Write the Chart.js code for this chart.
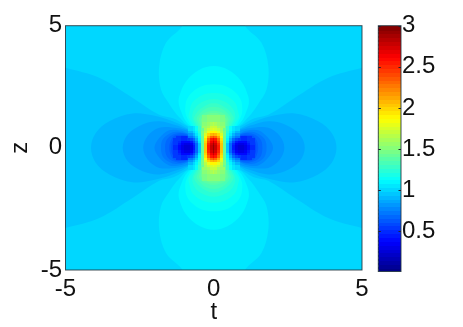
<!DOCTYPE html>
<html><head><meta charset="utf-8">
<style>html,body{margin:0;padding:0;background:#fff;overflow:hidden}
#wrap{position:relative;width:463px;height:327px}
canvas{position:absolute;top:0}</style>
<script src="https://cdn.jsdelivr.net/npm/chart.js@4"></script>
</head><body><div id="wrap">
<div style="position:absolute;left:0;top:0;width:463px;height:327px"><canvas id="main"></canvas></div>
<div style="position:absolute;left:340px;top:0;width:123px;height:327px"><canvas id="bar"></canvas></div>
</div>
<script>
const tTicks = [-5, 0, 5];
const zTicks = [-5, 0, 5];
const barTicks = [0.5, 1, 1.5, 2, 2.5, 3];
const tAxisTitle = "t";
const zAxisTitle = "z";
const colorMin = 0.01;
const colorMax = 3;
const levels = 64;
// one quadrant (t>=0, z>=0); the reference is symmetric in t and z
const tNodes = [0,.1,.2,.3,.4,.5,.6,.7,.8,.9,1,1.1,1.2,1.3,1.4,1.6,1.8,2,2.25,2.5,2.75,3,3.25,3.5,3.75,4,4.25,4.5,4.75,5];
const zNodes = [0,.1,.2,.3,.4,.5,.6,.7,.8,.9,1,1.2,1.4,1.6,1.8,2,2.25,2.5,2.75,3,3.25,3.5,3.75,4,4.25,4.5,4.75,5];
const quadrantValues = [
[2.92,2.78,2.58,2.08,1.43,.96,.65,.42,.29,.23,.25,.30,.40,.50,.58,.69,.77,.825,.855,.873,.883,.895,.91,.922,.932,.945,.95,.955,.96,.963],
[2.91,2.77,2.56,2.06,1.43,.97,.67,.44,.31,.25,.26,.31,.41,.51,.585,.69,.77,.825,.855,.873,.884,.896,.91,.922,.932,.945,.95,.955,.96,.963],
[2.88,2.74,2.50,2.03,1.43,.99,.71,.50,.37,.31,.31,.35,.44,.53,.60,.70,.775,.827,.856,.874,.885,.897,.911,.923,.933,.945,.95,.955,.96,.963],
[2.79,2.67,2.43,2.00,1.44,1.04,.78,.59,.47,.41,.39,.42,.49,.56,.62,.71,.78,.83,.858,.876,.887,.899,.912,.924,.934,.945,.95,.955,.96,.963],
[2.66,2.55,2.32,1.95,1.44,1.10,.87,.70,.59,.53,.50,.50,.54,.59,.64,.73,.79,.835,.862,.879,.89,.902,.914,.925,.935,.945,.95,.955,.96,.963],
[2.40,2.33,2.14,1.86,1.45,1.16,.96,.82,.72,.66,.62,.60,.61,.64,.67,.75,.805,.842,.867,.882,.893,.905,.917,.927,.936,.945,.95,.955,.96,.963],
[2.13,2.10,1.98,1.77,1.46,1.22,1.04,.92,.835,.775,.735,.71,.70,.705,.72,.77,.815,.848,.872,.887,.899,.91,.92,.93,.938,.945,.95,.955,.96,.963],
[1.92,1.90,1.83,1.68,1.46,1.27,1.12,1.0,.92,.865,.825,.80,.785,.775,.775,.79,.82,.85,.875,.89,.90,.912,.922,.932,.94,.946,.951,.956,.96,.964],
[1.80,1.78,1.72,1.60,1.44,1.30,1.17,1.08,1.0,.95,.90,.865,.845,.83,.825,.83,.84,.855,.88,.895,.905,.915,.924,.934,.941,.947,.952,.957,.961,.964],
[1.72,1.70,1.64,1.56,1.44,1.33,1.23,1.15,1.08,1.03,.97,.927,.898,.879,.866,.86,.862,.87,.882,.895,.906,.917,.926,.934,.941,.947,.952,.957,.961,.964],
[1.66,1.64,1.59,1.53,1.43,1.33,1.26,1.19,1.13,1.08,1.02,.98,.947,.924,.908,.891,.886,.888,.896,.905,.914,.922,.93,.937,.944,.949,.954,.958,.962,.965],
[1.55,1.54,1.52,1.47,1.42,1.365,1.31,1.26,1.21,1.14,1.087,1.048,1.016,.99,.97,.943,.929,.922,.921,.924,.928,.934,.939,.944,.949,.953,.957,.961,.964,.967],
[1.43,1.425,1.41,1.385,1.35,1.31,1.275,1.235,1.195,1.16,1.116,1.082,1.055,1.031,1.012,.982,.963,.951,.944,.942,.943,.945,.948,.951,.955,.958,.961,.964,.967,.969],
[1.35,1.345,1.335,1.315,1.29,1.26,1.235,1.20,1.17,1.145,1.124,1.10,1.076,1.056,1.038,1.009,.989,.975,.964,.959,.956,.956,.957,.959,.961,.963,.965,.967,.969,.971],
[1.282,1.28,1.272,1.26,1.245,1.227,1.208,1.187,1.168,1.145,1.123,1.104,1.085,1.068,1.052,1.026,1.007,.992,.98,.972,.968,.966,.965,.965,.966,.967,.969,.971,.972,.974],
[1.227,1.225,1.22,1.215,1.205,1.192,1.179,1.164,1.148,1.133,1.116,1.102,1.087,1.073,1.06,1.038,1.02,1.006,.993,.984,.978,.974,.973,.972,.972,.972,.973,.974,.975,.976],
[1.18,1.178,1.175,1.171,1.165,1.157,1.148,1.138,1.128,1.117,1.106,1.095,1.084,1.074,1.064,1.046,1.03,1.017,1.005,.995,.988,.984,.981,.979,.978,.978,.978,.978,.979,.979],
[1.145,1.144,1.142,1.14,1.137,1.13,1.125,1.118,1.11,1.103,1.095,1.086,1.078,1.071,1.063,1.048,1.036,1.024,1.013,1.004,.997,.992,.988,.985,.984,.983,.982,.982,.982,.982],
[1.12,1.119,1.118,1.117,1.115,1.109,1.106,1.10,1.096,1.088,1.084,1.078,1.072,1.066,1.06,1.049,1.038,1.028,1.018,1.01,1.003,.998,.994,.991,.989,.987,.986,.985,.985,.985],
[1.101,1.10,1.099,1.098,1.097,1.094,1.09,1.087,1.083,1.079,1.075,1.07,1.066,1.061,1.057,1.047,1.039,1.031,1.022,1.014,1.008,1.003,.998,.995,.993,.991,.99,.989,.988,.988],
[1.086,1.086,1.085,1.084,1.083,1.081,1.079,1.076,1.073,1.07,1.067,1.063,1.06,1.056,1.052,1.045,1.038,1.031,1.024,1.017,1.011,1.006,1.002,.999,.996,.994,.993,.992,.991,.99],
[1.074,1.074,1.073,1.073,1.072,1.07,1.069,1.067,1.064,1.062,1.06,1.057,1.054,1.051,1.048,1.043,1.037,1.031,1.024,1.019,1.013,1.009,1.005,1.002,.999,.997,.996,.994,.993,.992],
[1.065,1.065,1.064,1.064,1.063,1.062,1.06,1.059,1.057,1.055,1.053,1.051,1.049,1.047,1.044,1.04,1.035,1.03,1.025,1.02,1.015,1.011,1.007,1.004,1.002,1.0,.998,.996,.995,.994],
[1.057,1.057,1.056,1.056,1.055,1.054,1.053,1.052,1.051,1.05,1.048,1.046,1.045,1.043,1.041,1.037,1.033,1.029,1.024,1.02,1.016,1.012,1.009,1.006,1.004,1.001,1.0,.998,.997,.996],
[1.05,1.05,1.05,1.05,1.049,1.048,1.047,1.046,1.046,1.045,1.043,1.042,1.04,1.039,1.038,1.035,1.031,1.028,1.024,1.02,1.016,1.013,1.01,1.007,1.005,1.003,1.001,1.0,.999,.998],
[1.046,1.046,1.046,1.046,1.045,1.045,1.044,1.043,1.042,1.041,1.04,1.038,1.037,1.036,1.035,1.032,1.029,1.027,1.023,1.02,1.017,1.014,1.011,1.008,1.006,1.004,1.003,1.001,1.0,.999],
[1.045,1.045,1.045,1.044,1.044,1.043,1.043,1.042,1.041,1.04,1.038,1.036,1.034,1.033,1.032,1.03,1.027,1.025,1.022,1.019,1.017,1.014,1.011,1.009,1.007,1.005,1.004,1.002,1.001,1.0],
[1.044,1.044,1.044,1.043,1.043,1.042,1.042,1.041,1.04,1.039,1.038,1.036,1.034,1.032,1.03,1.028,1.026,1.024,1.021,1.019,1.016,1.014,1.012,1.01,1.008,1.006,1.005,1.003,1.002,1.001]
];

// Contour lines, in (t, z), one quarter each.
// The value beside each name is a value inside that filled band.
const baseBand = 1.01;
const lowBandA = 0.97;
const lowContourA = [[.49,0],[.56,.4],[.65,.6],[.8,.8],[1.05,1],[1.35,1.2],[1.84,1.35],[2.74,2.05],[3.86,2.87],[5,3.28],[6,3.6],[7,0]];
const lowBandB = 0.92;
const lowContourB = [[.5,0],[.55,.3],[.68,.6],[.91,.8],[1.2,1],[1.95,1.3],[2.74,1.41],[3.52,1.09],[3.98,.61],[4.14,0]];
const lowBandC = 0.875;
const lowContourC = [[.5,0],[.58,.4],[.72,.6],[.8,.7],[1,.8],[1.2,.9],[1.84,1.09],[2.4,.96],[2.9,.55],[3.07,0]];
const lowBandD = 0.83;
const lowContourD = [[.5,0],[.6,.3],[.8,.6],[.9,.7],[1.2,.8],[1.84,.82],[2.23,.48],[2.38,0]];
const lowBandE = 0.78;
const lowContourE = [[.5,0],[.65,.3],[.71,.5],[.9,.6],[1.08,.7],[1.5,.72],[1.84,.4],[2,0]];
const lowBandF = 0.734;
const lowContourF = [[.5,0],[.65,.25],[.75,.48],[.95,.6],[1.27,.66],[1.5,.58],[1.72,.35],[1.78,0]];
const lowBandG = 0.687;
const lowContourG = [[.55,0],[.7,.3],[.85,.5],[1,.59],[1.2,.6],[1.45,.5],[1.6,.3],[1.64,0]];
const lowBandH = 0.64;
const lowContourH = [[.6,0],[.72,.25],[.9,.5],[1.1,.54],[1.33,.5],[1.45,.3],[1.5,0]];
const lowBandI = 0.593;
const lowContourI = [[.65,0],[.75,.2],[.95,.45],[1.1,.49],[1.25,.43],[1.4,.25],[1.43,0]];
const highBandA = 1.06;
const highContourA = [[.5,.2],[.6,.6],[.75,.8],[.97,1],[1.12,1.2],[1.27,1.4],[1.5,1.8],[1.78,2.39],[1.84,3.35],[1.61,4.3],[1.1,4.92],[.8,5.5],[0,6]];
const highBandB = 1.11;
const highContourB = [[.5,.3],[.57,.6],[.7,.8],[.88,1],[1,1.2],[1.08,1.43],[1.18,1.8],[1.16,2.12],[.93,2.73],[.48,3.2],[0,3.35]];
const highBandC = 1.155;
const highContourC = [[.5,.4],[.6,.6],[.8,1],[.95,1.4],[.95,1.8],[.9,2],[.75,2.25],[.45,2.5],[0,2.6]];
const highBandD = 1.2;
const highContourD = [[.5,.4],[.55,.5],[.72,1],[.85,1.25],[.82,1.5],[.75,1.8],[.6,2],[.3,2.2],[0,2.25]];
const highBandE = 1.25;
const highContourE = [[.45,.3],[.5,.6],[.56,.8],[.65,1],[.72,1.2],[.72,1.4],[.65,1.6],[.5,1.8],[.25,1.95],[0,2]];
const highBandF = 1.295;
const highContourF = [[.43,.3],[.47,.6],[.52,.8],[.59,1],[.67,1.2],[.6,1.4],[.45,1.6],[.17,1.8],[0,1.83]];
const highBandG = 1.34;
const highContourG = [[.41,.3],[.44,.6],[.5,.8],[.52,1],[.58,1.2],[.48,1.4],[.28,1.6],[0,1.68]];
const highBandH = 1.39;
const highContourH = [[.4,.3],[.42,.6],[.46,.8],[.46,1],[.5,1.2],[.36,1.4],[0,1.52]];
const highBandI = 1.44;
const highContourI = [[.39,.3],[.4,.6],[.42,.8],[.42,1],[.42,1.2],[.18,1.4],[0,1.43]];

const FONT = {family: '"Liberation Sans", Arial, sans-serif', size: 24};
const TEXT = '#111';

function jet(v){
  let k = Math.floor((v - colorMin) / (colorMax - colorMin) * levels);
  k = Math.max(0, Math.min(levels - 1, k));
  const n = (k + .5) / levels;
  const c = x => Math.round(255 * Math.max(0, Math.min(1, x)));
  return `rgb(${c(1.5 - Math.abs(4*n - 3))},${c(1.5 - Math.abs(4*n - 2))},${c(1.5 - Math.abs(4*n - 1))})`;
}

// cells: the quadrant nodes mirrored to all four quadrants
function spans(nodes){
  const out = [];
  nodes.forEach((n, i) => {
    const lo = i === 0 ? -nodes[1] / 2 : (nodes[i-1] + n) / 2;
    const hi = i === nodes.length - 1 ? n : (n + nodes[i+1]) / 2;
    out.push({i, lo, hi});
    if (i > 0) out.push({i, lo: -hi, hi: -lo});
  });
  return out;
}
const cells = [];
spans(zNodes).forEach(zs => spans(tNodes).forEach(ts => {
  const v = quadrantValues[zs.i][ts.i];
  const x = (ts.lo + ts.hi) / 2, y = (zs.lo + zs.hi) / 2;
  const core = Math.abs(x) <= .85 && Math.abs(y) <= .85;
  if (v >= .57 && v < 1.461 && !core) return; // those bands are drawn as contours
  cells.push({x, y, x0: ts.lo, x1: ts.hi, y0: zs.lo, y1: zs.hi, v});
}));

const stamps = new Map();
function cellStyle(ctx){
  const r = ctx.raw; if (!r) return 'rect';
  const sx = ctx.chart.scales.x, sy = ctx.chart.scales.y;
  const w = Math.ceil(Math.abs(sx.getPixelForValue(r.x1) - sx.getPixelForValue(r.x0))) + 2;
  const h = Math.ceil(Math.abs(sy.getPixelForValue(r.y1) - sy.getPixelForValue(r.y0))) + 2;
  const col = jet(r.v), key = w + '|' + h + '|' + col;
  if (!stamps.has(key)) {
    const c = document.createElement('canvas'); c.width = w; c.height = h;
    const g = c.getContext('2d'); g.fillStyle = col; g.fillRect(0, 0, w, h);
    stamps.set(key, c);
  }
  return stamps.get(key);
}
const frame = {id: 'frame', afterDatasetsDraw(chart){
  const a = chart.chartArea, g = chart.ctx;
  g.save(); g.strokeStyle = 'rgba(30,50,60,.85)'; g.lineWidth = 1;
  g.strokeRect(a.left, a.top, a.width, a.height); g.restore();
}};

const pts = list => list.map(([x, y]) => ({x, y}));
function sideLobes(q){ // quarter runs inner -> outer along z>=0, ending on z=0
  const full = q.concat(q.slice(0, -1).reverse().map(([t, z]) => [t, -z]));
  return [full, full.map(([t, z]) => [-t, z])];
}
function axisLobes(q){ // quarter runs centre -> t=0 axis
  const full = q.concat(q.slice(0, -1).reverse().map(([t, z]) => [-t, z]));
  return [full, full.map(([t, z]) => [t, -z])];
}
const layers = [];
function addLayer(path, band){
  layers.push({data: pts(path), showLine: true, fill: 'shape', backgroundColor: jet(band),
    borderWidth: 0, pointRadius: 0, tension: .35, capBezierPoints: false, order: 100 - layers.length});
}
addLayer([[-6,-6],[6,-6],[6,6],[-6,6]], baseBand);
[[lowContourA, lowBandA],[lowContourB, lowBandB],[lowContourC, lowBandC],[lowContourD, lowBandD],[lowContourE, lowBandE],
 [lowContourF, lowBandF],[lowContourG, lowBandG],[lowContourH, lowBandH],[lowContourI, lowBandI]]
  .forEach(([q, b]) => sideLobes(q).forEach(p => addLayer(p, b)));
[[highContourA, highBandA],[highContourB, highBandB],[highContourC, highBandC],[highContourD, highBandD],
 [highContourE, highBandE],[highContourF, highBandF],[highContourG, highBandG],[highContourH, highBandH],[highContourI, highBandI]]
  .forEach(([q, b]) => axisLobes(q).forEach(p => addLayer(p, b)));

Chart.defaults.animation = false;
Chart.defaults.responsive = false;

const mainCanvas = document.getElementById('main'); mainCanvas.width = 463; mainCanvas.height = 327;
new Chart(mainCanvas, {
  type: 'scatter',
  data: {datasets: [{data: cells, pointStyle: cellStyle, radius: 2, borderWidth: 0, clip: 0, order: 0}, ...layers]},
  plugins: [frame],
  options: {
    events: [], devicePixelRatio: 1,
    layout: {padding: {top: 25.7, right: 101, left: 0, bottom: 0}},
    plugins: {legend: {display: false}, tooltip: {enabled: false}},
    scales: {
      x: {type: 'linear', min: -5, max: 5,
        afterBuildTicks: s => { s.ticks = tTicks.map(value => ({value})); },
        afterFit: s => { s.height = 57; },
        grid: {display: false, drawTicks: false}, border: {display: false},
        ticks: {font: FONT, color: TEXT, maxRotation: 0, autoSkip: false, padding: 5, callback: v => String(v)},
        title: {display: true, text: tAxisTitle, font: FONT, color: TEXT, padding: {top: 0, bottom: 0}}},
      y: {type: 'linear', min: -5, max: 5,
        afterBuildTicks: s => { s.ticks = zTicks.map(value => ({value})); },
        afterFit: s => { s.width = 65.5; },
        grid: {display: false, drawTicks: false}, border: {display: false},
        ticks: {font: FONT, color: TEXT, autoSkip: false, padding: 3.5, callback: v => String(v)},
        title: {display: true, text: zAxisTitle, font: FONT, color: TEXT, padding: {top: 6, bottom: 0}}}
    }
  }
});

const barCells = [];
for (let k = 0; k < levels; k++) {
  const lo = colorMin + (colorMax - colorMin) * k / levels;
  const hi = colorMin + (colorMax - colorMin) * (k + 1) / levels;
  barCells.push({x: 0, y: (lo + hi) / 2, x0: -1, x1: 1, y0: lo, y1: hi, v: (lo + hi) / 2});
}
const innerTicks = {id: 'innerTicks', afterDatasetsDraw(chart){
  const a = chart.chartArea, g = chart.ctx, s = chart.scales.y;
  g.save(); g.strokeStyle = '#223'; g.lineWidth = 1; g.beginPath();
  barTicks.forEach(v => { const y = Math.round(s.getPixelForValue(v)) + .5;
    g.moveTo(a.left, y); g.lineTo(a.left + 2.5, y); g.moveTo(a.right - 2.5, y); g.lineTo(a.right, y); });
  g.stroke(); g.restore();
}};
const barCanvas = document.getElementById('bar'); barCanvas.width = 123; barCanvas.height = 327;
new Chart(barCanvas, {
  type: 'scatter',
  data: {datasets: [{data: barCells, pointStyle: cellStyle, radius: 2, borderWidth: 0, clip: 0}]},
  plugins: [frame, innerTicks],
  options: {
    events: [], devicePixelRatio: 1,
    layout: {padding: {top: 25.7, right: 0, left: 38.3, bottom: 55.5}},
    plugins: {legend: {display: false}, tooltip: {enabled: false}},
    scales: {
      x: {type: 'linear', min: -1, max: 1, display: false},
      y: {type: 'linear', position: 'right', min: colorMin, max: colorMax,
        afterBuildTicks: s => { s.ticks = barTicks.map(value => ({value})); },
        afterFit: s => { s.width = 62; },
        grid: {display: false, drawTicks: false}, border: {display: false},
        ticks: {font: FONT, color: TEXT, autoSkip: false, padding: 1, callback: v => String(v)}}
    }
  }
});
</script></body></html>
